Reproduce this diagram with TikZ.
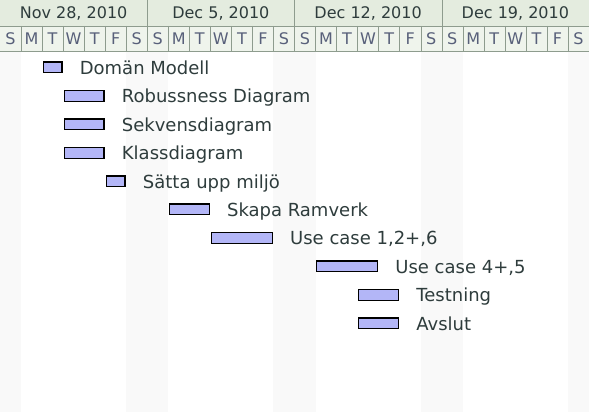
\documentclass[tikz,border=0pt]{standalone}
\usepackage{fontspec}
\setmainfont{DejaVu Sans}
\usepackage{tikz}
\usetikzlibrary{positioning}
\definecolor{headbg}{HTML}{E4ECDF}
\definecolor{daybg}{HTML}{EFF4EC}
\definecolor{gridline}{HTML}{8E9C8E}
\definecolor{weekend}{HTML}{F9F9F9}
\definecolor{barfill}{HTML}{B3B6F7}
\definecolor{txt}{HTML}{2E3C3C}
\definecolor{daytxt}{HTML}{58607A}
\tikzset{l/.style={font=\fontsize{18}{18}\selectfont, text=txt, inner sep=0pt, text height=13.1pt, text depth=0pt}}
\tikzset{wk/.style={font=\fontsize{16}{16}\selectfont, text=txt, inner sep=0pt}}
\tikzset{d/.style={font=\fontsize{16}{16}\selectfont, text=daytxt, inner sep=0pt}}
\tikzset{
bar/.style={draw=black, line width=1.3pt, fill=barfill, anchor=west, inner sep=0pt, minimum height=10.7pt, minimum width=#1*21.036pt-2.3pt}
}

\begin{document}
\begin{tikzpicture}[x=21.036pt, y=-1pt]
    \useasboundingbox (0,0) rectangle (28,412);
    \foreach \c in {0,6,7,13,14,20,21,27}
      \fill[weekend] (\c,51) rectangle (\c+1,412);
    \fill[headbg] (0,0) rectangle (28,26);
    \fill[daybg] (0,26) rectangle (28,51);
    \draw[gridline] (0,26) -- (28,26);
    \draw[gridline] (0,51) -- (28,51);
    \foreach \w in {7,14,21}
      \draw[gridline] (\w,0) -- (\w,26);
    \foreach \c in {1,...,27}
      \draw[gridline] (\c,26) -- (\c,51);
    \node[wk] (wk1) at (3.5,13.5) {Nov 28, 2010};
    \node[wk] (wk2) at (10.5,13.5) {Dec 5, 2010};
    \node[wk] (wk3) at (17.5,13.5) {Dec 12, 2010};
    \node[wk] (wk4) at (24.5,13.5) {Dec 19, 2010};
    \foreach \w in {0,7,14,21}
      \foreach \d [count=\i from 0] in {S,M,T,W,T,F,S}
        \node[d] (day\the\numexpr\w+\i\relax) at (\w+\i+0.5,38.5) {\d};
    \node[bar=1] (domain) at (2.025,67.5) {};
    \node[bar=2] (robust) at (3.025,96) {};
    \node[bar=2] (sekvens) at (3.025,124.5) {};
    \node[bar=2] (klass) at (3.025,153) {};
    \node[bar=1] (miljo) at (5.025,181.5) {};
    \node[bar=2] (ramverk) at (8.025,209.5) {};
    \node[bar=3] (uca) at (10.025,238) {};
    \node[bar=3] (ucb) at (15.025,266.5) {};
    \node[bar=2] (test) at (17.025,295) {};
    \node[bar=2] (avslut) at (17.025,323.5) {};
    \node[l, right=17pt of domain] (domainl) {Domän Modell};
    \node[l, right=17pt of robust] (robustl) {Robussness Diagram};
    \node[l, right=17pt of sekvens] (sekvensl) {Sekvensdiagram};
    \node[l, right=17pt of klass] (klassl) {Klassdiagram};
    \node[l, right=17pt of miljo] (miljol) {Sätta upp miljö};
    \node[l, right=17pt of ramverk] (ramverkl) {Skapa Ramverk};
    \node[l, right=17pt of uca] (ucal) {Use case 1,2+,6};
    \node[l, right=17pt of ucb] (ucbl) {Use case 4+,5};
    \node[l, right=17pt of test] (testl) {Testning};
    \node[l, right=17pt of avslut] (avslutl) {Avslut};
  \end{tikzpicture}
\end{document}
